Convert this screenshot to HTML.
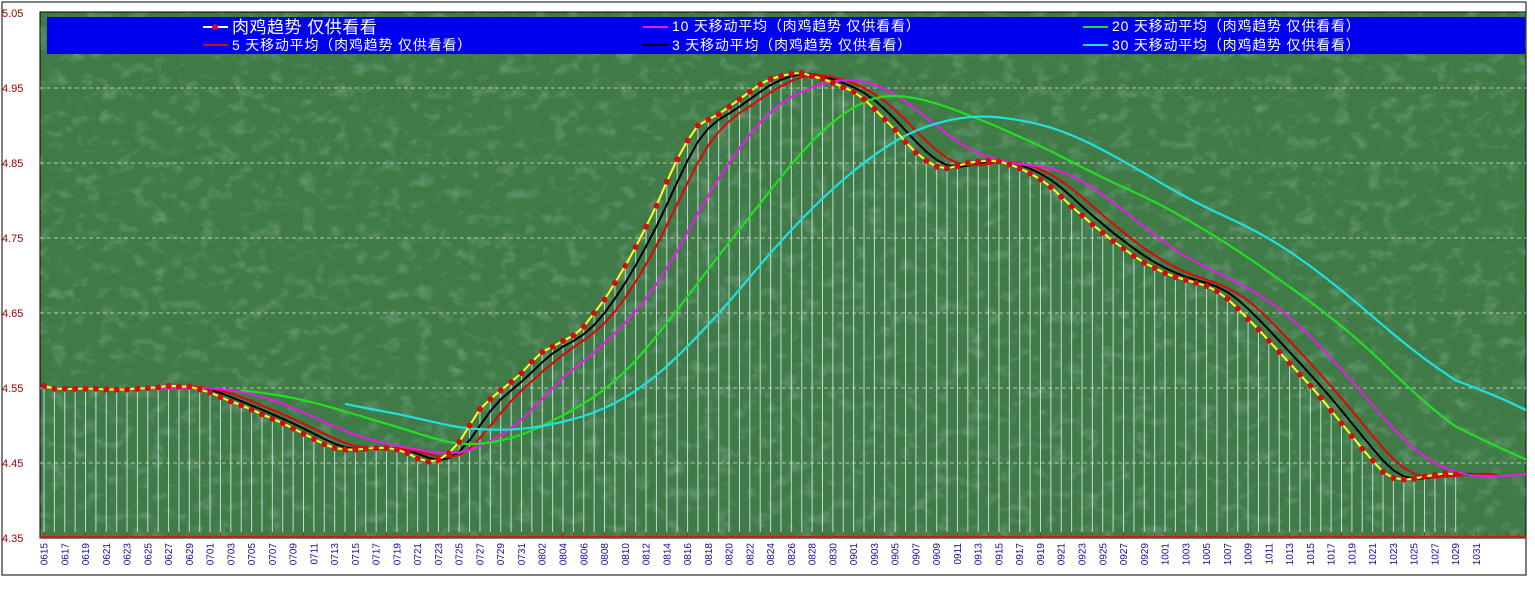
<!DOCTYPE html>
<html><head><meta charset="utf-8">
<style>
html,body{margin:0;padding:0;background:#fff;width:1535px;height:612px;overflow:hidden}
svg{display:block}
text{font-family:"Liberation Sans","Noto Sans CJK SC",sans-serif}
</style></head>
<body>
<svg id="chart" width="1535" height="612" xmlns="http://www.w3.org/2000/svg">
<defs>
<filter id="tex" x="0" y="0" width="100%" height="100%">
<feTurbulence type="fractalNoise" baseFrequency="0.06 0.08" numOctaves="3" seed="7" result="n"/>
<feColorMatrix type="matrix" values="0 0 0 0 0.7  0 0 0 0 0.88  0 0 0 0 0.8  0 0 0 1.4 -0.7" in="n"/>
</filter>
<clipPath id="plotclip"><rect x="40" y="12" width="1486" height="526"/></clipPath>
</defs>
<rect x="2" y="2" width="1524" height="573" fill="#fff" stroke="#000" stroke-width="1"/>
<g id="plot">
<rect x="40" y="12" width="1486" height="526" fill="#3f7a47" stroke="#000"/>
<rect x="40" y="12" width="1486" height="526" filter="url(#tex)" opacity="0.4"/>
</g>
<g id="grid"></g>
<g id="drops" clip-path="url(#plotclip)"></g>
<g id="series" clip-path="url(#plotclip)"></g>
<g id="axes"></g>
<g id="legend">
<rect x="47" y="17" width="1478" height="37" fill="#0000f0"/>
<g><line x1="203" y1="27" x2="228" y2="27" stroke="#fff" stroke-width="2"/><circle cx="215" cy="27" r="3" fill="#d01010"/><text x="232" y="33" fill="#fff" font-size="17" letter-spacing="0.5">肉鸡趋势 仅供看看</text></g>
<g><line x1="203" y1="45" x2="228" y2="45" stroke="#d01010" stroke-width="2"/><text x="232" y="50" fill="#fff" font-size="14" letter-spacing="0.8">5 天移动平均（肉鸡趋势 仅供看看）</text></g>
<g><line x1="643" y1="27" x2="668" y2="27" stroke="#e020e0" stroke-width="2"/><text x="672" y="31" fill="#fff" font-size="14" letter-spacing="0.8">10 天移动平均（肉鸡趋势 仅供看看）</text></g>
<g><line x1="643" y1="45" x2="668" y2="45" stroke="#000" stroke-width="2"/><text x="672" y="50" fill="#fff" font-size="14" letter-spacing="0.8">3 天移动平均（肉鸡趋势 仅供看看）</text></g>
<g><line x1="1083" y1="27" x2="1108" y2="27" stroke="#20e020" stroke-width="2"/><text x="1112" y="31" fill="#fff" font-size="14" letter-spacing="0.8">20 天移动平均（肉鸡趋势 仅供看看）</text></g>
<g><line x1="1083" y1="45" x2="1108" y2="45" stroke="#20e0e0" stroke-width="2"/><text x="1112" y="50" fill="#fff" font-size="14" letter-spacing="0.8">30 天移动平均（肉鸡趋势 仅供看看）</text></g>
</g>
</svg>
<script>
const yTicks = [4.35,4.45,4.55,4.65,4.75,4.85,4.95,5.05];
const values = [
4.553,4.549,4.549,4.549,4.549,4.549,4.548,4.548,4.548,4.549,4.550,4.551,4.553,4.552,4.552,4.548,
4.544,4.538,4.532,4.527,4.521,4.515,4.509,4.503,4.496,4.489,4.482,4.475,4.470,4.468,4.468,4.469,4.470,4.470,4.468,4.463,4.456,4.452,4.454,4.463,4.478,4.500,4.522,4.535,4.547,4.558,4.570,
4.585,4.598,4.605,4.613,4.620,4.632,4.650,4.668,4.690,4.713,4.738,4.765,4.793,4.825,4.855,4.880,4.900,4.908,4.915,4.925,4.935,4.945,4.955,4.962,4.966,4.969,4.970,4.966,4.962,4.957,4.951,
4.945,4.935,4.922,4.908,4.894,4.878,4.864,4.853,4.845,4.843,4.846,4.850,4.852,4.853,4.852,4.848,4.843,4.836,4.828,4.818,4.805,4.792,4.780,4.768,4.757,4.746,4.736,4.726,4.717,4.710,
4.703,4.698,4.694,4.690,4.686,4.679,4.669,4.656,4.642,4.628,4.613,4.598,4.583,4.568,4.553,4.537,4.520,4.503,4.486,4.469,4.453,4.438,4.430,4.428,4.429,4.432,4.434,4.436,4.435];
const maWindows = [3,5,10,20,30];
const maColors = ['#000','#d01010','#e020e0','#20e020','#20e0e0'];
const monthDays = [[6,15,30],[7,1,31],[8,1,31],[9,1,30],[10,1,31],[11,1,6]];
const categories = [];
monthDays.forEach(m=>{for(let d=m[1];d<=m[2];d++)categories.push(String(m[0]).padStart(2,'0')+String(d).padStart(2,'0'));});
const NS='http://www.w3.org/2000/svg';
const x0=44, dx=10.38, yBase=538, yScale=750;
const X=i=>x0+i*dx;
const Y=v=>yBase-(v-4.35)*yScale;
function mk(tag,attrs,parent){const e=document.createElementNS(NS,tag);for(const k in attrs)e.setAttribute(k,attrs[k]);parent.appendChild(e);return e;}
const grid=document.getElementById('grid'),axes=document.getElementById('axes'),drops=document.getElementById('drops'),series=document.getElementById('series');
yTicks.forEach(t=>{
  if(t>4.36&&t<5.0){const l=mk('line',{x1:40,x2:1526,y1:Y(t),y2:Y(t),stroke:'#d8d8c8','stroke-dasharray':'4,3','stroke-width':1,opacity:0.8},grid);
  
  }
  const tx=mk('text',{x:2,y:Y(t)+4,'font-size':11,fill:'#a00000','font-family':'Liberation Mono,monospace'},axes);
  
  
  tx.textContent=t.toFixed(2);
});
const ax=mk('line',{x1:40,x2:1526,y1:537,y2:537,stroke:'#c02020','stroke-width':2},axes);


categories.forEach((c,i)=>{
  const x=X(i); if(x>1524)return;
  const tk=mk('line',{x1:x,x2:x,y1:537,y2:532,stroke:'#c02020','stroke-width':1},axes);
  
  
  if(i%2===0 && c<='1031' && c.slice(0,2)!=='11'){
    const t=mk('text',{x:0,y:0,'font-size':10,fill:'#101090','text-anchor':'end',transform:`translate(${x+3.5},543) rotate(-90)`},axes);
    
    
    t.textContent=c;
  }
});
values.forEach((v,i)=>{
  const l=mk('line',{x1:X(i),x2:X(i),y1:Y(v),y2:536,stroke:'#d6ecf4','stroke-width':1,opacity:0.85},drops);
  
  
});
const N=values.length;
maWindows.forEach((w,k)=>{
  const pts=[];
  const last = k===2?Math.min(categories.length,N+10):categories.length;
  for(let i=w-1;i<last;i++){
    let s=0,n=0;for(let j=i-w+1;j<=i;j++){if(j<N){s+=values[j];n++;}}
    if(n>0)pts.push(X(i).toFixed(1)+','+Y(s/n).toFixed(1));
  }
  const p=mk('polyline',{points:pts.join(' '),fill:'none',stroke:maColors[k],'stroke-width':k===0?2:2.2},series);
  
  
});
const mp=mk('polyline',{points:values.map((v,i)=>X(i).toFixed(1)+','+Y(v).toFixed(1)).join(' '),fill:'none',stroke:'#ffff20','stroke-width':2},series);


values.forEach((v,i)=>{
  const c=mk('circle',{cx:X(i),cy:Y(v),r:3,fill:'#d01010'},series);
  
  
});
</script>
</body></html>
